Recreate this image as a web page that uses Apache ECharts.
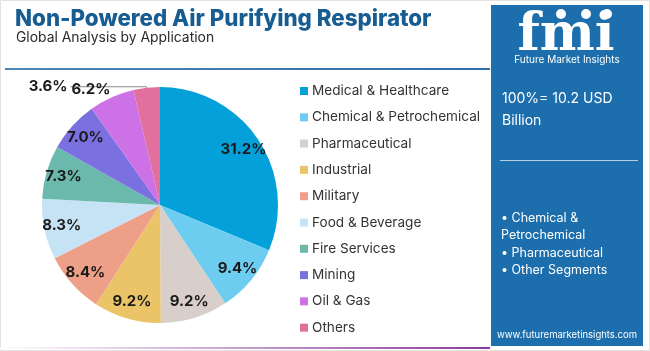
<!DOCTYPE html>
<html><head><meta charset="utf-8">
<script src="https://cdn.jsdelivr.net/npm/echarts@6/dist/echarts.min.js"></script>
<style>html,body{margin:0;padding:0;background:#fff}#c{width:650px;height:351px}</style>
</head><body><div id="c"></div><script>
const categories = ['Medical & Healthcare','Chemical & Petrochemical','Pharmaceutical','Industrial','Military','Food & Beverage','Fire Services','Mining','Oil & Gas','Others'];
const shares = [31.2, 9.4, 9.2, 9.2, 8.4, 8.3, 7.3, 7.0, 6.2, 3.6];
const colors = ['#03a0da','#6dcdf1','#d8cfcb','#ecc468','#ee9f88','#c6e3f5','#6bb9ad','#7a70e0','#cd72e6','#e2709f'];
const titleText = 'Non-Powered Air Purifying Respirator';
const subtitleText = 'Global Analysis by Application';
const totalLines = ['100%= 10.2 USD', 'Billion'];
const bulletLines = ['• Chemical &', 'Petrochemical', '• Pharmaceutical', '• Other Segments'];
const siteText = 'www.futuremarketinsights.com';

const CX = 160, CY = 205, R = 118;
const FONT = 'Inter, "Open Sans", sans-serif';
const chart = echarts.init(document.getElementById('c'), null, {renderer: 'canvas'});

const data = categories.map((n, i) => {
  const d = {name: n, value: shares[i], itemStyle: {color: colors[i]}};
  if (i === 8) {
    d.label = {position: 'outside'};
    d.labelLine = {show: false};
  }
  if (i === 9) {
    d.label = {position: 'outside', distanceToLabelLine: 3};
    d.labelLine = {show: true, length: 1, length2: 76, lineStyle: {color: '#8a8a8a', width: 1}};
  }
  return d;
});

const graphic = [
  {type: 'rect', shape: {x: 0.5, y: 0.5, width: 649, height: 350}, style: {fill: 'none', stroke: '#e3e3e3', lineWidth: 1}, silent: true, z: -10},
  {type: 'rect', shape: {x: 5, y: 68, width: 485, height: 2}, style: {fill: new echarts.graphic.LinearGradient(0, 0, 1, 0, [{offset: 0, color: '#4f86b8'}, {offset: 1, color: '#2f6ea8'}])}, silent: true},
  {type: 'rect', shape: {x: 0, y: 347, width: 490, height: 2}, style: {fill: new echarts.graphic.LinearGradient(0, 0, 1, 0, [{offset: 0, color: '#ffffff'}, {offset: 1, color: '#8a3a9a'}])}, silent: true},
  {type: 'rect', shape: {x: 491, y: 5, width: 152, height: 341}, style: {fill: '#1c6eac'}, silent: true},
  {type: 'text', x: 566, y: 10, style: {text: 'fmi', font: 'bold 52px "DejaVu Serif", serif', fill: '#ffffff', align: 'center', verticalAlign: 'top'}, silent: true},
  {type: 'circle', shape: {cx: 561, cy: 14, r: 5}, style: {fill: '#ffffff'}, silent: true},
  {type: 'circle', shape: {cx: 586, cy: 14, r: 5}, style: {fill: '#ffffff'}, silent: true},
  {type: 'circle', shape: {cx: 607, cy: 14, r: 5}, style: {fill: '#ffffff'}, silent: true},
  {type: 'text', x: 567, y: 60, style: {text: 'Future Market Insights', font: '10px ' + FONT, fill: '#ffffff', align: 'center', verticalAlign: 'middle'}, silent: true},
  {type: 'text', x: 502, y: 99, style: {text: totalLines[0], font: '14px ' + FONT, fill: '#ffffff', verticalAlign: 'middle'}, silent: true},
  {type: 'text', x: 502, y: 121, style: {text: totalLines[1], font: '14px ' + FONT, fill: '#ffffff', verticalAlign: 'middle'}, silent: true},
  {type: 'rect', shape: {x: 500, y: 160, width: 138, height: 1}, style: {fill: '#b8cfe3'}, silent: true},
  ...bulletLines.map((t, i) => ({type: 'text', x: 501, y: 218 + i * 17.5, style: {text: t, font: '12.5px ' + FONT, fill: '#ffffff', verticalAlign: 'middle'}, silent: true})),
  {type: 'text', x: 567, y: 335, style: {text: siteText, font: '9.5px ' + FONT, fill: '#ffffff', align: 'center', verticalAlign: 'middle'}, silent: true}
];

chart.setOption({
  animation: false,
  title: [
    {text: titleText, left: 10, top: 3, textStyle: {fontFamily: FONT, fontWeight: 800, fontSize: 22.3, color: '#175d91'}},
    {text: subtitleText, left: 11, top: 26, textStyle: {fontFamily: FONT, fontWeight: 400, fontSize: 13.9, color: '#2a2a2a'}}
  ],
  legend: {
    orient: 'vertical', left: 295, top: 79,
    itemWidth: 8, itemHeight: 8, itemGap: 12.3,
    icon: 'rect',
    textStyle: {fontFamily: FONT, fontSize: 13.6, color: '#333', lineHeight: 14, padding: [0, 0, 0, -1]},
    data: categories
  },
  graphic: graphic,
  series: [{
    type: 'pie',
    center: [CX, CY], radius: R,
    startAngle: 90, clockwise: true,
    avoidLabelOverlap: false,
    data: data,
    label: {
      show: true, position: 'inside',
      formatter: p => p.value.toFixed(1) + '%',
      fontFamily: FONT, fontWeight: 700, fontSize: 15, color: '#1a1a1a'
    },
    labelLine: {show: false},
    labelLayout: function (p) {
      const i = p.dataIndex;
      if (i === 9) return {};
      if (i === 8) return {x: 91, y: 89, align: 'center', verticalAlign: 'middle'};
      const r = p.labelRect;
      const lx = r.x + r.width / 2, ly = r.y + r.height / 2;
      const k = 1.62;
      return {x: CX + (lx - CX) * k, y: CY + (ly - CY) * k, align: 'center', verticalAlign: 'middle'};
    },
    emphasis: {disabled: true}
  }]
});
</script></body></html>
